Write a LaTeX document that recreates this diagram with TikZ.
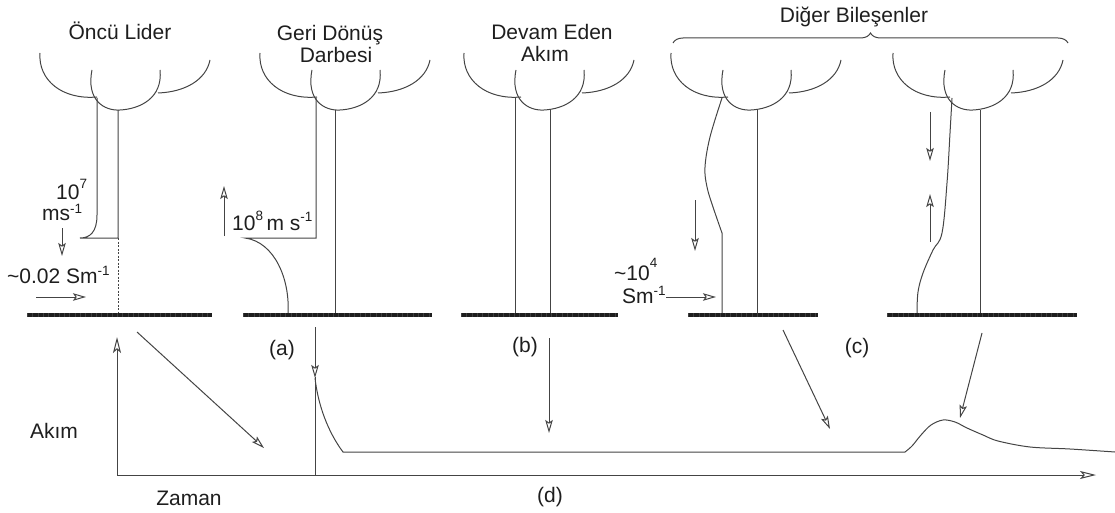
\documentclass[tikz,border=0pt]{standalone}
\usepackage{fontspec}
\setmainfont{Liberation Sans}
\usetikzlibrary{arrows.meta,decorations.pathreplacing}
\definecolor{ink}{HTML}{444444}
\definecolor{txt}{HTML}{1E1E1E}
% raised small exponent: \expo[raise]{text}
\newcommand\expo[2][8]{\raisebox{#1pt}{\fontsize{13.5}{13.5}\selectfont #2}}

\begin{document}
\begin{tikzpicture}[x=1pt,y=-1pt,
  line/.style={draw=ink, line width=1pt},
  arr/.style={line, -{Stealth[open,length=13pt,width=7.5pt,inset=2.5pt]}},
  bigarr/.style={line, -{Stealth[open,length=16pt,width=8pt,inset=3.5pt]}},
  lbl/.style={text=txt, font=\fontsize{21}{23}\selectfont, inner sep=0pt},
  cloud/.pic={
    \draw[line] (40,53) .. controls (38,80) and (62,100) .. (97,97);
    \draw[line] (92,70) .. controls (86,100) and (104,111) .. (120,110)
                        .. controls (140,109) and (163,98) .. (160,70);
    \draw[line] (158,93) .. controls (185,92) and (206,80) .. (210,60);
  }]
\useasboundingbox (0,0) rectangle (1115,513);

% ---------- clouds ----------
\pic at (0,0)   {cloud};
\pic at (220,0) {cloud};
\pic at (424,0) {cloud};
\pic at (631,0) {cloud};
\pic at (853,0) {cloud};

% ---------- ground strips ----------
\foreach \a/\b in {27/212, 243/432, 461/618, 688/818, 887/1077}{
  \draw[draw=txt, line width=3.5pt] (\a,315) -- (\b,315);
  \draw[white, opacity=0.15, line width=3.5pt, dash pattern=on 0.8pt off 4.5pt] (\a,315) -- (\b,315);
}

% ---------- stepped leader ----------
\draw[line] (97,98) -- (97,215) .. controls (97,232) and (90,238) .. (80,238)
            -- (118,238) -- (118,110);
\draw[line, dash pattern=on 2pt off 1.5pt] (118,238) -- (118,313);
\node[lbl, anchor=base] (t1) at (120,40) {Öncü Lider};
\node[lbl, anchor=base west] (v7) at (56,200) {10\expo[12]{7}};
\node[lbl, anchor=base west] (ms) at (42,220) {ms\expo[7]{-1}};
\node[lbl, anchor=base west] (sig1) at (7,283) {\textasciitilde0.02 Sm\expo[8]{-1}};
\draw[arr] (62,228) -- (62,256);
\draw[arr] (36,297) -- (86,297);

% ---------- return stroke ----------
\draw[line] (316,98) -- (316,238) -- (245,238)
            .. controls (275,242) and (290,280) .. (288,313);
\draw[line] (335,110) -- (335,313);
\node[lbl, anchor=base] (t2a) at (330,41) {Geri Dönüş};
\node[lbl, anchor=base] (t2b) at (336,63) {Darbesi};
\node[lbl, anchor=base west] (v8) at (232,230) {10\expo[10]{8}\,m s\expo[9]{-1}};
\draw[arr] (224,236) -- (224,186);

% ---------- continuing current ----------
\draw[line] (515,98) -- (515,313);
\draw[line] (550,110) -- (550,313);
\node[lbl, anchor=base] (t3a) at (552,40) {Devam Eden};
\node[lbl, anchor=base] (t3b) at (545,62) {Akım};

% ---------- other components ----------
\draw[line] plot[smooth, tension=0.6] coordinates
  {(722,98) (710,137) (705,167) (707,187) (713,207) (722,233)} -- (722,313);
\draw[line] (757,110) -- (757,313);
\node[lbl, anchor=base west] (v4) at (614,280) {\textasciitilde10\expo[13]{4}};
\node[lbl, anchor=base west] (sig4) at (622,303) {Sm\expo[8]{-1}};
\draw[arr] (695,200) -- (695,251);
\draw[arr] (666,297) -- (716,297);

\draw[line] plot[smooth, tension=0.6] coordinates
  {(952,98) (950,133) (947,183) (942,233) (933,250) (923,273) (918,292) (917,313)};
\draw[line] (980,110) -- (980,313);
\draw[arr] (930,112) -- (930,161);
\draw[arr] (930,242) -- (930,194);

\draw[line, decorate, decoration={brace, amplitude=10pt}] (673,43) -- (1068,43);
\node[lbl, anchor=base] (t4) at (854,23) {Diğer Bileşenler};

% ---------- panel labels ----------
\node[lbl, anchor=base] (la) at (282,355) {(a)};
\node[lbl, anchor=base] (lb) at (525,352) {(b)};
\node[lbl, anchor=base] (lc) at (857,353) {(c)};
\node[lbl, anchor=base] (ld) at (550,502) {(d)};

% ---------- current waveform ----------
\draw[bigarr] (117,475) -- (117,337);
\draw[bigarr] (117,475) -- (1096,475);
\node[lbl, anchor=base] (yl) at (54,438) {Akım};
\node[lbl, anchor=base] (xl) at (189,505) {Zaman};
\draw[line] (315,377) -- (315,475);
\draw[line] (315,378) .. controls (318,405) and (328,432) .. (343,452) -- (905,452);
\draw[line] plot[smooth, tension=0.55] coordinates
  {(905,452) (912,446) (921,435) (931,425) (943,420) (955,422) (967,428)
   (983,435) (998,441) (1030,447) (1070,449) (1115,452)};

\draw[arr] (137,332) -- (264,448);
\draw[arr] (315,327) -- (315,378);
\draw[arr] (549,338) -- (549,433);
\draw[arr] (783,330) -- (830,429);
\draw[arr] (982,333) -- (960,418);
\end{tikzpicture}
\end{document}
